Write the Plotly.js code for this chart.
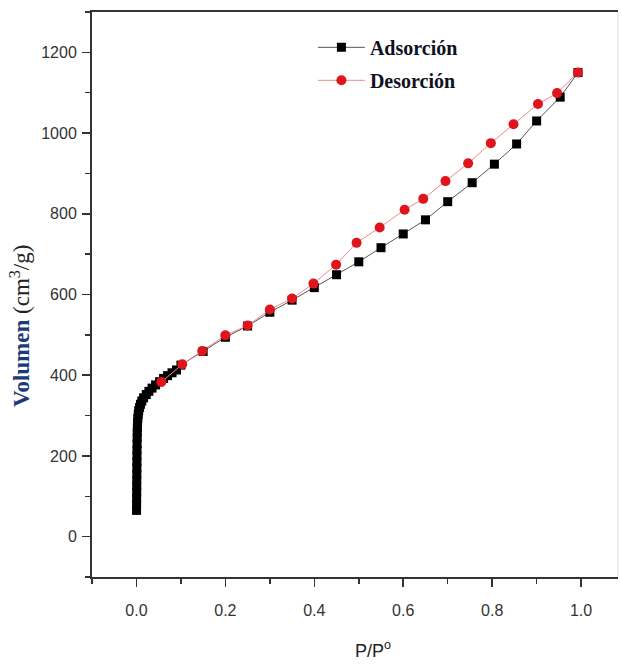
<!DOCTYPE html>
<html>
<head>
<meta charset="utf-8">
<script src="https://cdn.plot.ly/plotly-3.0.1.min.js"></script>
<style>html,body{margin:0;padding:0;background:#fff;}#chart{width:621px;height:664px;}</style>
</head>
<body>
<div id="chart"></div>
<script>
// Adsorption branch (P/P°, volume cm3/g)
const adsX = [0.0002,0.0003,0.0004,0.0005,0.0006,0.0007,0.0008,0.0009,0.001,0.0011,0.0012,0.0014,0.0016,0.0018,0.002,0.0025,0.003,0.004,0.005,0.007,0.009,0.012,0.016,0.022,0.028,0.035,0.043,0.052,0.061,0.07,0.08,0.09,0.1,0.15,0.2,0.25,0.3,0.35,0.4,0.45,0.5,0.55,0.6,0.65,0.7,0.755,0.805,0.855,0.9,0.953,0.993];
const adsY = [65,80,95,110,125,140,155,170,185,200,215,230,245,258,270,282,293,303,312,320,328,336,344,352,360,368,376,384,392,399,406,413,425,459,494,522,556,586,617,649,681,716,750,785,830,877,923,973,1030,1089,1150];
// Desorption branch
const desX = [0.993,0.946,0.903,0.848,0.797,0.746,0.695,0.645,0.603,0.547,0.495,0.449,0.398,0.35,0.3,0.25,0.2,0.148,0.103,0.056];
const desY = [1150,1099,1072,1022,975,925,881,837,810,766,728,674,627,590,563,523,499,460,427,383];
const names = ["Adsorción","Desorción"];
const xTickVals = [0,0.2,0.4,0.6,0.8,1.0];
const xTickText = ["0.0","0.2","0.4","0.6","0.8","1.0"];
const yTickVals = [0,200,400,600,800,1000,1200];

const traces = [
  {x: adsX, y: adsY, name: names[0], type: 'scatter', mode: 'lines+markers', legendgroup: 'a',
   line: {color: '#555555', width: 1}, marker: {symbol: 'square', size: 9, color: '#000000'}},
  {x: desX, y: desY, name: names[1], type: 'scatter', mode: 'lines+markers', legendgroup: 'd',
   line: {color: '#f08a8a', width: 1}, marker: {symbol: 'circle', size: 10, color: '#e0141c'}}
];

const tickFont = {family: 'Liberation Sans, Arial, sans-serif', size: 16, color: '#333333'};

const layout = {
  width: 621, height: 664,
  margin: {l: 92, r: 3, t: 12, b: 87},
  paper_bgcolor: '#ffffff', plot_bgcolor: '#ffffff',
  showlegend: true,
  legend: {x: 0.42, y: 0.972, xanchor: 'left', yanchor: 'top', bgcolor: 'rgba(0,0,0,0)',
    font: {family: 'Liberation Serif, Times New Roman, serif', size: 20, color: '#101020', weight: 'bold'},
    itemwidth: 47, tracegroupgap: 4},
  xaxis: {range: [-0.1, 1.083], tickmode: 'array', tickvals: xTickVals, ticktext: xTickText,
    ticks: 'outside', ticklen: 8, tickwidth: 1.5, tickcolor: '#333',
    minor: {dtick: 0.1, tick0: 0, ticks: 'outside', ticklen: 5, tickwidth: 1.5, tickcolor: '#333'},
    showline: true, linecolor: '#333', linewidth: 2, mirror: true,
    showgrid: false, zeroline: false, tickfont: tickFont, ticklabelstandoff: 10},
  yaxis: {range: [-100, 1300], tickmode: 'array', tickvals: yTickVals,
    ticks: 'outside', ticklen: 8, tickwidth: 1.5, tickcolor: '#333',
    minor: {dtick: 100, tick0: 0, ticks: 'outside', ticklen: 5, tickwidth: 1.5, tickcolor: '#333'},
    showline: true, linecolor: '#333', linewidth: 2,
    showgrid: false, zeroline: false, tickfont: tickFont, ticklabelstandoff: 2},
  shapes: [{type: 'line', xref: 'paper', yref: 'paper', x0: 1, x1: 1, y0: 0, y1: 1,
    line: {color: '#dddddd', width: 1}}],
  annotations: [
    {xref: 'paper', yref: 'paper', x: -0.137, y: 0.444, textangle: -90, showarrow: false,
     xanchor: 'center', yanchor: 'middle',
     font: {family: 'Liberation Serif, Times New Roman, serif', size: 23, color: '#222222'},
     text: '<span style="color:#1b3a7a"><b>Volumen</b></span> (cm<sup>3</sup>/g)'},
    {xref: 'paper', yref: 'paper', x: 0.534, y: -0.129, showarrow: false,
     xanchor: 'center', yanchor: 'middle',
     font: {family: 'Liberation Sans, Arial, sans-serif', size: 18, color: '#222222'},
     text: 'P/P<sup>o</sup>'}
  ]
};

Plotly.newPlot('chart', traces, layout, {displayModeBar: false, staticPlot: true});
</script>
</body>
</html>
